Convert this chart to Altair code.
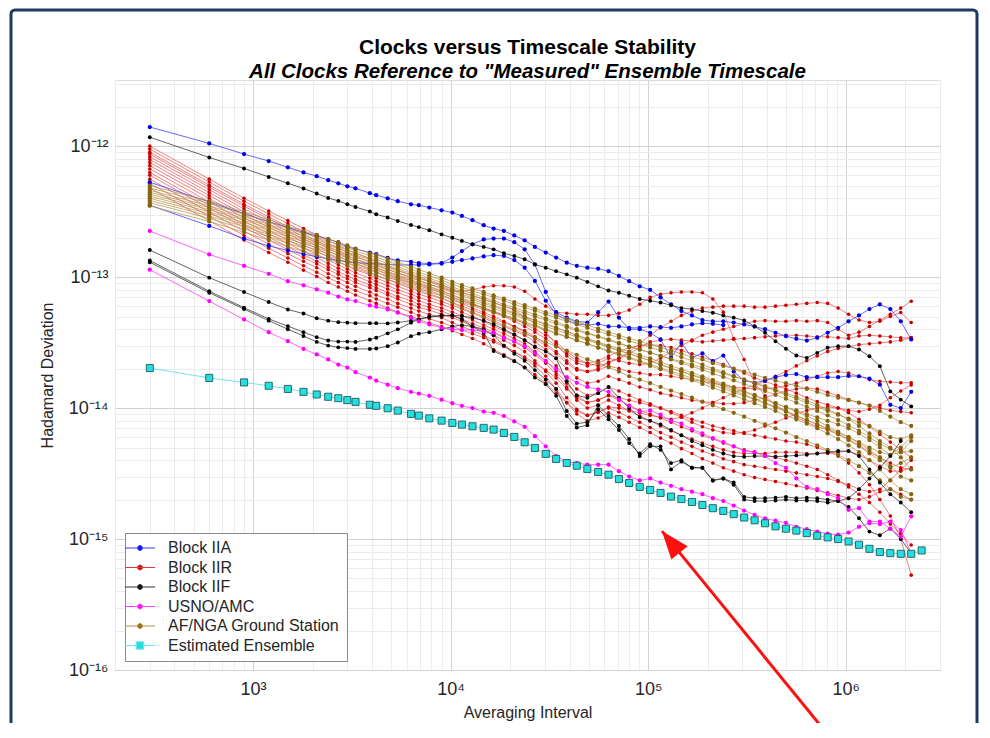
import altair as alt
import pandas as pd

# ---------------- sampling grid: tau = TAU0 * m ----------------
TAU0 = 300
M = [1, 2, 3, 4, 5, 6, 7, 8, 9, 10,
     11, 13, 14, 16, 18, 21, 23, 26, 30, 34,
     38, 43, 49, 55, 62, 70, 79, 89, 101, 114,
     129, 145, 164, 186, 210, 237, 267, 302, 341, 385,
     435, 491, 555, 627, 708, 800, 903, 1020, 1152, 1301,
     1470, 1660, 1874, 2117, 2391, 2700, 3050, 3445, 3890, 4394,
     4962, 5605, 6330, 7149]
M_ENSEMBLE = M + [8074]
UNIT = 1e-15  # all deviation values below are in units of 1e-15

# ---------------- Block IIA ----------------
IIA = {
    "IIA-1": [1400, 1050, 870, 770, 690, 630, 590, 550, 520, 494, 477, 437, 422, 400, 380, 360, 354, 340, 324, 311,
              293, 272, 249, 235, 225, 208, 191, 170, 154, 141, 129, 122, 118, 116, 111, 102, 93, 85, 80, 70,
              62, 55, 51, 47, 46, 46, 45, 43.5, 42, 40, 37.6, 35.4, 33.8, 32.8, 34.4, 37.6, 41, 46, 51, 57,
              62, 57, 46, 33.4],
    "IIA-2": [530, 375, 305, 265, 240, 220, 206, 195, 184, 170, 164, 154, 150, 140, 134, 131, 128, 127, 128, 141,
              158, 178, 194, 197, 197, 185, 163, 125, 77, 54, 49, 46, 45, 54, 65, 49, 40, 40, 37.6, 33.4,
              24.3, 31.5, 24.3, 26.2, 22.8, 25.2, 19, 16.2, 15.6, 16.2, 17.2, 17.9, 18.2, 17.2, 17.2, 17.2, 17.2, 17.6, 17.5, 16.8,
              15.1, 10.6, 10, 13.3],
    "IIA-3": [354, 246, 197, 173, 160, 150, 143, 138, 134, 131, 129, 127, 126, 125, 124, 124, 124, 125, 127, 131,
              135, 139, 144, 147, 145, 135, 118, 93.5, 66, 52, 47, 44, 43, 44, 42, 42, 41, 41, 42, 41.5,
              41, 42, 43.5, 44.5, 44, 43],
}

# ---------------- Block IIR ----------------
IIR = {
    "IIR-1": [950, 532, 380, 304, 256, 223, 200, 180, 166, 154, 144, 131, 124, 115, 107, 99, 94, 88, 83, 78,
              78, 80, 84, 86, 86, 84, 78, 68, 60, 54, 53, 52, 52, 51, 51, 53, 56, 62, 70, 74,
              76, 77, 77, 76, 68, 54, 34, 23.5, 15.6, 12.4, 10.5, 9.5, 8.5, 7.8, 7.2, 6.8, 6.3, 5.8, 5.2, 4.6,
              4.2, 3.8, 3.5, 3.4],
    "IIR-2": [1000, 560, 400, 320, 270, 235, 210, 190, 175, 162, 152, 138, 131, 121, 113, 104, 99, 93, 87, 81,
              76, 72, 68, 64, 60, 56, 50, 44, 38, 31, 25, 22, 21, 22, 24, 23, 22, 21.5, 22, 24,
              27, 30, 33, 36, 38, 40, 42, 44, 46, 46.5, 46, 46, 46.5, 46, 46.5, 45, 40, 36, 38, 42,
              47, 52, 58, 65.5],
    "IIR-3": [870, 487, 348, 278, 235, 204, 183, 165, 152, 141, 132, 120, 114, 105, 98, 90, 86, 81, 76, 70,
              66, 62, 58, 55, 51, 48, 44, 40, 36, 32, 27, 24, 22, 21, 22, 24, 27, 31, 36, 41,
              46, 51, 55, 58, 59, 60, 60, 60, 59, 59, 60, 61, 62, 63, 64, 63, 58, 52, 47, 45,
              46, 50, 53.7, 45],
    "IIR-4": [830, 465, 332, 266, 224, 195, 174, 158, 145, 134, 126, 115, 109, 100, 94, 86, 82, 77, 72, 67,
              63, 58, 54, 50, 46, 42, 38, 34, 30, 26, 22, 19.5, 19, 20, 22.5, 24, 26, 29, 32, 33,
              33.5, 33, 32.5, 32, 32.5, 33, 33.5, 34, 34.5, 35, 35.5, 36, 36, 35.5, 35, 35, 34.5, 34, 35.5, 36,
              35.5, 35, 34.4, 34.4],
    "IIR-5": [790, 442, 316, 253, 213, 186, 166, 150, 138, 128, 120, 109, 103, 96, 89, 82, 78, 73, 69, 64,
              60, 56, 52, 48, 45, 42, 39, 35, 31, 27, 23, 20, 19, 19.5, 21, 20, 19, 18.5, 18, 18,
              17.5, 17, 16.5, 16, 15.5, 15, 14.5, 14.2, 14, 14, 14.3, 14.8, 15.5, 16.5, 17.5, 18.5, 19, 18.5, 17.5, 16.5,
              16, 15.8, 15.6, 15.6],
    "IIR-6": [750, 420, 300, 240, 203, 176, 158, 143, 131, 122, 114, 104, 98, 91, 85, 78, 74, 70, 65, 61,
              57, 53, 49, 45, 42, 39, 36, 32, 28, 24, 20, 17, 15.5, 16, 17.5, 16.5, 15.5, 14.5, 13.8, 13,
              12.5, 12, 11.5, 11.2, 11, 10.8, 10.8, 11, 11.5, 12, 12.8, 13.5, 14, 14.2, 14, 13.2, 12.4, 11.6, 11, 10.5,
              10, 9.6, 9.4, 9.2],
    "IIR-7": [710, 398, 284, 227, 192, 167, 149, 135, 124, 115, 108, 98, 93, 86, 80, 74, 70, 66, 62, 58,
              54, 50, 46, 42, 39, 36, 33, 29, 25, 21, 17, 14, 12.5, 13, 14.5, 13.5, 12.5, 11.5, 10.8, 10,
              9.4, 8.8, 8.2, 7.8, 7.3, 7, 6.7, 6.4, 6.2, 6, 5.8, 5.6, 5.5, 5.3, 5, 4.7, 4.3, 3.8, 3.2, 2.6,
              2, 1.5, 1.0, 0.53],
    "IIR-8": [670, 375, 268, 214, 181, 157, 141, 127, 117, 109, 102, 92, 88, 81, 76, 70, 66, 62, 58, 54,
              51, 47, 43, 40, 37, 34, 31, 27, 23, 19, 15.5, 12.5, 11, 11.5, 12.5, 11.5, 10.5, 9.6, 9, 8.4,
              7.8, 7.2, 6.7, 6.2, 5.8, 5.4, 5.1, 4.8, 4.6, 4.4, 4.2, 4.0, 3.8, 3.6, 3.4, 3.1, 2.8, 2.5, 2.2, 1.9,
              1.6, 1.3, 1.1, 0.9],
    "IIR-9": [630, 353, 252, 202, 170, 148, 132, 120, 110, 102, 96, 87, 83, 76, 71, 66, 62, 59, 55, 51,
              48, 44, 41, 38, 35, 32, 29, 25.5, 22, 18, 14.5, 11.5, 10, 10.5, 11.5, 10.5, 9.5, 8.7, 8, 7.3,
              6.7, 6.2, 5.8, 5.4, 5.1, 4.8, 4.6, 4.5, 4.5, 4.5, 4.6, 4.6, 4.6, 4.5, 4.5, 4.5, 4.6, 4.7, 4.4, 4,
              3.6, 3.3, 3.3, 3.5],
    "IIR-10": [600, 336, 240, 192, 162, 141, 126, 114, 105, 97, 91, 83, 79, 73, 68, 62, 59, 56, 52, 49,
               46, 42, 39, 36, 33, 30, 27, 23, 19, 15.5, 12, 9.8, 8.8, 9.3, 10, 9.3, 8.5, 7.8, 7.1, 6.5,
               6, 5.5, 5.1, 4.7, 4.4, 4.1, 3.9, 3.7, 3.6, 3.5, 3.4, 3.3, 3.2, 3.1, 3.0, 2.9, 2.75, 2.6, 2.4, 2.3,
               2.4, 2.8, 3.4, 4.0],
    "IIR-11": [560, 314, 224, 179, 151, 132, 118, 106, 98, 91, 85, 77, 73, 68, 63, 58, 55, 52, 49, 45,
               42, 39, 36, 33, 30, 27, 24, 21, 17.5, 14, 11, 9, 8, 8.4, 9.2, 8.5, 7.8, 7.1, 6.5, 5.9,
               5.4, 4.9, 4.5, 4.1, 3.8, 3.5, 3.3, 3.1, 2.95, 2.85, 2.75, 2.65, 2.55, 2.45, 2.35, 2.25, 2.15, 2.05, 2.0, 2.1,
               2.3, 2.4, 2.2, 2.0],
    "IIR-12": [520, 291, 208, 166, 140, 122, 109, 99, 91, 84, 79, 72, 68, 63, 59, 54, 51, 48, 45, 42,
               39.5, 37, 34.5, 32, 29.5, 27, 24.5, 22, 19.5, 17, 14, 12, 11, 11.5, 12.5, 12, 11.5, 11, 10.5, 10,
               9.2, 8.5, 7.8, 7.2, 6.8, 6.5, 6.4, 6.5, 6.8, 7.3, 7.8, 8.4, 9.0, 9.6, 10, 10.2, 10, 9.2, 8.2, 7.2,
               6.3, 5.5, 4.8, 4.2],
    "IIR-13": [480, 269, 192, 154, 130, 113, 101, 91, 84, 78, 73, 66, 63, 58, 54, 50, 47.5, 44.5, 42, 39,
               36.5, 34, 31, 28, 25.5, 23, 20.5, 18, 15.5, 13, 11, 9.5, 8.8, 9.3, 10.2, 10, 9.6, 9.2, 8.8, 8.5,
               8.2, 8.5, 9.2, 10, 11, 12, 13, 14, 15, 16, 17.5, 19, 21, 23, 25, 27, 28.5, 29.5, 30.5, 31,
               31.5, 32, 33, 34.5],
    "IIR-14": [900, 504, 360, 288, 243, 212, 189, 171, 158, 146, 137, 124, 118, 109, 102, 94, 89, 84, 78, 73,
               68, 63, 58, 54, 50, 46, 42, 38, 34, 30, 26, 23, 22, 23, 25, 27, 29, 30, 30.5, 30,
               29, 27.5, 26, 24.5, 23, 21.5, 20, 18.5, 17, 16, 15, 14, 13, 12, 11.2, 10.6, 10, 9.6, 9.4, 9.8,
               10.5, 12, 13.5, 15],
}

# ---------------- Block IIF ----------------
IIF = {
    "IIF-1": [1170, 820, 675, 582, 521, 475, 435, 402, 382, 360, 343, 317, 302, 285, 268, 250, 241, 228, 212, 200,
              189, 178, 170, 163, 152, 145, 137, 125, 118, 111, 105, 99, 92, 85, 79, 76, 72, 68, 66, 64,
              61, 58, 57, 55, 53.5, 51, 49, 46.7, 42, 37.6, 32.4, 28.4, 25.2, 24.2, 26.4, 28.9, 29.7, 29.7, 28, 24.9,
              20.9, 13.4, 11.6, 10.3],
    "IIF-2": [161, 99, 77, 64.5, 56.6, 52.7, 48.5, 46.5, 45.3, 44.9, 44.5, 44.5, 44.5, 44.3, 45, 46.5, 47.5, 49.5, 50.5, 51,
              50.5, 49, 46.5, 43.5, 40, 36.5, 33, 29.5, 27, 24, 16, 12.5, 12, 13, 14.5, 12, 10, 8.5, 8, 7.5,
              6.8, 6.2, 5.6, 5.2, 4.8, 4.5, 4.3, 4.25, 4.3, 4.3, 4.25, 4.3, 4.35, 4.4, 4.5, 4.6, 4.7, 4.7, 4.3, 3.4,
              2.7, 2.2, 1.9, 1.6],
    "IIF-3": [134, 78, 58.4, 48, 42.2, 38, 34.8, 32.8, 32.2, 32.2, 32, 33.4, 34.4, 37.2, 39.9, 44.9, 47.5, 50, 51, 51,
              47.5, 42, 37.6, 27.3, 25, 22.8, 20.4, 17.1, 15.2, 12.4, 8.7, 7.1, 7.4, 10.5, 8.7, 7.3, 5.8, 4.3, 5.1, 5.1,
              3.4, 3.9, 3.5, 3.5, 2.8, 2.9, 2.7, 2.1, 2.05, 2.05, 2.07, 2.1, 2.05, 2.07, 2.05, 2.0, 1.95, 1.76, 1.44, 1.14,
              1.07, 1.2, 1.0, 0.78],
    "IIF-4": [130, 76, 57, 46.5, 40, 35.5, 32, 30, 29.1, 28.7, 28.3, 28.3, 28.5, 29.7, 31.7, 35.4, 37, 38, 39.9, 42,
              43, 42, 40, 36, 30, 26, 23, 19.5, 16.5, 14, 9.5, 7.6, 7.8, 9.8, 8.2, 6.8, 5.4, 4.5, 5.3, 4.8,
              3.8, 4.0, 3.5, 3.5, 2.8, 2.9, 2.6, 2.0, 1.95, 1.95, 1.97, 2.0, 1.97, 1.97, 1.95, 1.9, 1.95, 2.05, 2.4, 2.9,
              3.5, 4.3, 5.6],
}

# ---------------- USNO / AMC ----------------
USNO = {
    "USNO-1": [225, 149, 122, 106, 93, 86.6, 80.6, 76, 71, 67.5, 65.6, 60.8, 59.5, 56.6, 53.5, 49, 46, 43.5, 41, 40,
               39.5, 39.5, 38.5, 37.6, 34.4, 32.4, 29.7, 26.3, 22.8, 19.9, 17.2, 15.6, 14.5, 13.9, 13.3, 11.6, 10.4, 9.4, 9.6, 8.9,
               8.0, 7.6, 6.9, 6.4, 5.9, 5.5, 5.1, 4.7, 4.6, 4.3, 3.8, 3.5, 2.9, 2.5, 2.4, 2.2, 2.05, 1.67, 1.72, 1.36,
               1.36, 1.2, 1.04, 1.49],
    "USNO-2": [114, 65.6, 47.5, 38, 32.4, 28.3, 25.7, 23.5, 21.5, 20.4, 18.8, 17.1, 16.2, 15.1, 14.2, 13.3, 12.9, 12.4, 11.6, 10.9,
               10.4, 10, 9.4, 9.2, 8.7, 7.9, 7.2, 6.1, 5.1, 4.3, 3.9, 3.8, 3.7, 3.7, 3.7, 3.3, 3.0, 2.8, 2.9, 2.7,
               2.55, 2.4, 2.3, 2.2, 2.05, 1.95, 1.8, 1.65, 1.53, 1.44, 1.38, 1.33, 1.24, 1.19, 1.14, 1.1, 1.08, 1.12, 1.24, 1.32,
               1.3, 1.36, 1.17, 0.78],
}

# ---------------- AF/NGA ground stations ----------------
AFNGA = {
    "AF-1": [500, 380, 315, 275, 245, 225, 210, 195, 185, 175, 165, 152, 148, 138, 130, 120, 114, 107, 99, 92,
             87, 82, 77, 72.5, 68.5, 64.5, 61, 57.5, 54, 51, 48, 45.5, 43, 40.5, 38, 36, 34, 32.5, 30.5, 29,
             27.5, 26, 24.5, 23.5, 22, 21, 20, 19, 18, 17, 16.2, 15.5, 14.8, 14, 13.3, 12.6, 12, 11.5, 11, 10.4,
             9.5, 8.6, 7.8, 7.3],
    "AF-2": [480, 365, 302, 264, 235, 216, 202, 187, 178, 168, 158, 146, 142, 132, 125, 115, 109, 102, 95, 88,
             83.5, 78.5, 74, 70, 66, 62, 58.5, 55.5, 52, 49, 46, 43.5, 41, 38.5, 36.5, 34.5, 32.5, 31, 29, 27.5,
             26, 24.5, 23, 21.5, 20, 18.8, 17.6, 16.5, 15.5, 14.5, 13.6, 12.6, 11.8, 11, 10.2, 9.5, 8.9, 8.3, 7.8, 7.3,
             6.6, 6.0, 5.8, 6.2],
    "AF-3": [460, 350, 290, 253, 225, 207, 193, 179, 170, 161, 152, 140, 136, 127, 120, 110, 105, 98, 91, 84,
             79.5, 75, 70, 66, 62, 58.5, 55, 52, 48.5, 45.5, 42.5, 40, 37.5, 35.5, 33.5, 31.5, 29.5, 28, 26.5, 25,
             23.5, 22, 20.8, 19.6, 18.4, 17.3, 16.3, 15.3, 14.4, 13.5, 12.6, 11.8, 11, 10.2, 9.5, 8.8, 8.1, 7.4, 6.7, 6.0,
             5.3, 4.9, 4.6, 4.7],
    "AF-4": [445, 338, 280, 245, 218, 200, 187, 174, 165, 156, 147, 136, 131, 122, 116, 107, 101, 95, 88, 81,
             77, 72, 67.5, 63.5, 60, 56.5, 53, 50, 47, 44, 41.5, 39, 37, 35, 33, 31, 29.5, 28, 26.5, 25,
             23.8, 22.6, 21.5, 20.4, 19.4, 18.4, 17.4, 16.5, 15.6, 14.7, 13.8, 13, 12.2, 11.4, 10.6, 9.8, 9, 8.2, 7.3, 6.4,
             5.6, 5, 4.2, 3.4],
    "AF-5": [430, 327, 271, 237, 211, 194, 181, 168, 159, 150, 142, 131, 127, 118, 112, 103, 98, 92, 85, 79,
             74, 69.5, 65, 61, 57, 53.5, 50, 47, 44, 41, 38.5, 36, 33.5, 31.5, 29.5, 27.5, 26, 24.5, 23, 21.5,
             20, 19, 18, 17, 16, 15, 14, 13.2, 12.4, 11.6, 10.9, 10.2, 9.6, 9, 8.5, 8, 7.5, 7, 6.4, 5.7,
             5, 4.4, 4.6, 5.6],
    "AF-6": [415, 315, 261, 228, 203, 187, 174, 162, 154, 145, 137, 127, 122, 114, 108, 100, 95, 88, 82, 76,
             72, 67.5, 63, 59.5, 56, 52.5, 49.5, 46.5, 43.5, 41, 38.5, 36, 34, 32, 30, 28.5, 27, 25.5, 24, 22.5,
             21, 19.8, 18.6, 17.5, 16.4, 15.4, 14.4, 13.5, 12.6, 11.7, 10.9, 10.1, 9.4, 8.7, 8, 7.3, 6.6, 6, 5.4, 4.8,
             4.2, 3.6, 3.0, 2.8],
    "AF-7": [400, 304, 252, 220, 196, 180, 168, 156, 148, 140, 132, 122, 118, 110, 104, 96, 91, 85, 79, 73,
             69, 65, 61, 57.5, 54, 51, 48, 45, 42, 39.5, 37, 35, 33, 31, 29, 27.5, 26, 24.5, 23, 21.5,
             20.2, 19, 17.8, 16.7, 15.6, 14.6, 13.6, 12.7, 11.8, 11, 10.2, 9.5, 8.8, 8.1, 7.5, 6.9, 6.3, 5.7, 5.1, 4.5,
             4.0, 3.5, 3.8, 4.2],
    "AF-8": [385, 293, 243, 212, 189, 173, 162, 150, 142, 135, 127, 117, 114, 106, 100, 92, 88, 82, 76, 70,
             66, 62, 58, 55, 51.5, 48.5, 45.5, 43, 40, 37.5, 35, 33, 31, 29, 27, 25.5, 24, 22.5, 21, 19.8,
             18.6, 17.4, 16.3, 15.3, 14.3, 13.4, 12.5, 11.7, 10.9, 10.2, 9.5, 8.8, 8.2, 7.6, 7.0, 6.4, 5.8, 5.2, 4.6, 4.0,
             3.4, 2.8, 2.4, 2.2],
    "AF-9": [370, 281, 233, 204, 181, 167, 155, 144, 137, 130, 122, 113, 109, 102, 96, 89, 84, 79, 73, 68,
             64, 60.5, 56.5, 53.5, 50.5, 47.5, 44.5, 42, 39.5, 37, 35, 33, 31, 29, 27.5, 26, 24.5, 23, 21.5, 20.3,
             19.2, 18, 17, 16, 15, 14.1, 13.2, 12.4, 11.6, 10.8, 10.1, 9.4, 8.7, 8.1, 7.5, 7, 6.5, 6, 5.5, 5,
             4.6, 4.4, 5.0, 6.0],
    "AF-10": [350, 266, 220, 192, 171, 157, 147, 136, 130, 122, 116, 107, 103, 96, 91, 84, 80, 75, 69, 64,
              58, 54, 50, 46.5, 43, 40, 37, 34.5, 32, 29.5, 27.5, 25.5, 23.5, 22, 20.5, 19, 17.5, 16.5, 15.5, 14.5,
              13.6, 12.8, 12, 11.2, 10.5, 9.8, 9.2, 8.6, 8, 7.5, 7, 6.5, 6, 5.6, 5.2, 4.8, 4.4, 4, 3.6, 3.2,
              2.8, 2.4, 2.1, 2.0],
}

# ---------------- Estimated ensemble ----------------
ENSEMBLE = [20.2, 17.0, 15.7, 14.8, 14.0, 13.3, 12.7, 12.2, 11.9, 11.5, 11.15, 10.6, 10.4, 9.97, 9.57, 9.03, 8.76, 8.35, 8.02, 7.70,
            7.48, 7.26, 7.06, 6.85, 6.46, 6.02, 5.48, 4.96, 4.47, 4.09, 3.81, 3.63, 3.43, 3.25, 3.10, 2.87, 2.68, 2.50, 2.37, 2.25,
            2.11, 2.02, 1.92, 1.82, 1.72, 1.64, 1.55, 1.46, 1.39, 1.32, 1.25, 1.20, 1.16, 1.11, 1.06, 1.03, 1.00, 0.958, 0.904, 0.842,
            0.795, 0.78, 0.771, 0.771, 0.818]

LABELS = ["Block IIA", "Block IIR", "Block IIF", "USNO/AMC", "AF/NGA Ground Station", "Estimated Ensemble"]

# arrow annotation (tail, tip) in data coordinates
ARROW_TAU = [8.83e5, 1.175e5]
ARROW_HDEV = [2.75e-17, 1.15e-15]
ARROW_HEAD = (1.30e5, 9.5e-16)


def frame_of(series_dict, grid):
    rows = []
    for name, vals in series_dict.items():
        for m, v in zip(grid, vals):
            rows.append({"tau": TAU0 * m, "hdev": v * UNIT, "series": name})
    return pd.DataFrame(rows)


FONT = "Liberation Sans"

x_major = [1000, 10000, 100000, 1000000]
x_minor = [k * 10 ** e for e in range(2, 7) for k in range(2, 10) if 200 <= k * 10 ** e <= 3000000]
y_major = [1e-16, 1e-15, 1e-14, 1e-13, 1e-12]
y_minor = [k * 10.0 ** e for e in range(-16, -12) for k in range(2, 10)] + [2e-12, 3e-12]

x_label_expr = ("datum.value == 1000 ? '10³' : datum.value == 10000 ? '10⁴' : "
                "datum.value == 100000 ? '10⁵' : datum.value == 1000000 ? '10⁶' : ''")
y_label_expr = ("datum.value == 1e-12 ? '10⁻¹²' : datum.value == 1e-13 ? '10⁻¹³' : "
                "datum.value == 1e-14 ? '10⁻¹⁴' : datum.value == 1e-15 ? '10⁻¹⁵' : "
                "datum.value == 1e-16 ? '10⁻¹⁶' : ''")

x_axis = alt.Axis(values=sorted(x_major + x_minor), labelExpr=x_label_expr, title="Averaging Interval",
                  grid=True, ticks=False, domain=False, labelFlush=False, labelOverlap=False,
                  gridColor={"condition": {"test": "indexof([1000,10000,100000,1000000], datum.value) >= 0",
                                           "value": "#d2d2d2"}, "value": "#ebebeb"},
                  labelFont=FONT, labelFontSize=18, labelColor="#262626", labelPadding=10,
                  titleFont=FONT, titleFontSize=16, titleFontWeight="normal", titleColor="#262626",
                  titlePadding=6)
y_axis = alt.Axis(values=sorted(y_major + y_minor), labelExpr=y_label_expr, title="Hadamard Deviation",
                  grid=True, ticks=False, domain=False, labelFlush=False, labelOverlap=False,
                  gridColor={"condition": {"test": "indexof([1e-16,1e-15,1e-14,1e-13,1e-12], datum.value) >= 0",
                                           "value": "#d2d2d2"}, "value": "#ebebeb"},
                  labelFont=FONT, labelFontSize=18, labelColor="#262626", labelPadding=7,
                  titleFont=FONT, titleFontSize=16, titleFontWeight="normal", titleColor="#262626",
                  titlePadding=13)

xs = alt.Scale(type="log", domain=[200, 3000000], nice=False)
ys = alt.Scale(type="log", domain=[1e-16, 3.2e-12], nice=False)
X = alt.X("tau:Q", scale=xs, axis=x_axis)
Y = alt.Y("hdev:Q", scale=ys, axis=y_axis)

# group styling: (data, line colour, line opacity, marker colour, marker size)
STYLE = [
    (IIR, "#e23a3a", 0.7, "#c80000", 13),
    (IIA, "#3a3aff", 0.85, "#0000e6", 18),
    (AFNGA, "#b39042", 0.8, "#86650f", 18),
    (IIF, "#333333", 0.85, "#000000", 15),
    (USNO, "#ff40ff", 0.9, "#ff00ff", 18),
]

layers = []

frame = alt.Chart(pd.DataFrame({"k": [0]})).mark_rect(
    fillOpacity=0, stroke="#1d3a63", strokeWidth=3, cornerRadius=4, clip=False
).encode(x=alt.value(-104), x2=alt.value(862), y=alt.value(-70), y2=alt.value(720))
layers.append(frame)

for data, lc, lop, mc, ms in STYLE:
    df = frame_of(data, M)
    base = alt.Chart(df).encode(x=X, y=Y)
    layers.append(base.mark_line(color=lc, strokeWidth=0.9, opacity=lop, clip=True).encode(detail="series:N"))
    layers.append(base.mark_circle(color=mc, size=ms, opacity=1, clip=True))

ens_df = frame_of({"Ensemble": ENSEMBLE}, M_ENSEMBLE)
ens_base = alt.Chart(ens_df).encode(x=X, y=Y)
layers.append(ens_base.mark_line(color="#6fe6ef", strokeWidth=1, clip=True))
layers.append(ens_base.mark_square(size=50, filled=True, color="#27dede", stroke="#1e5a60",
                                   strokeWidth=0.9, opacity=1, clip=True))

# legend-only layer (points sit outside the plotted range and are clipped away)
LINE_DOT = "M-2,0L2,0M0.33,0A0.33,0.33,0,1,1,-0.33,0A0.33,0.33,0,1,1,0.33,0Z"
LINE_SQ = "M-2,0L-0.5,0M0.5,0L2,0M-0.5,-0.5L0.5,-0.5L0.5,0.5L-0.5,0.5Z"
leg_df = pd.DataFrame({"label": LABELS, "tau": [1e8] * 6, "hdev": [1e-14] * 6})
LEG = alt.Legend(title=None, orient="none", legendX=10, legendY=453, fillColor="white",
                 strokeColor="#8a8a8a", padding=7, labelFont=FONT, labelFontSize=16,
                 labelColor="#262626", symbolSize=225, labelOffset=20, rowPadding=3.5,
                 labelLimit=400, symbolStrokeWidth=1, symbolOpacity=1)
legend_layer = alt.Chart(leg_df).mark_point(filled=True, size=225, opacity=1, strokeWidth=1, clip=True).encode(
    x=X, y=Y,
    color=alt.Color("label:N", scale=alt.Scale(domain=LABELS, range=["#0000e6", "#c80000", "#000000", "#ff00ff", "#86650f", "#27dede"]), legend=LEG),
    stroke=alt.Stroke("label:N", scale=alt.Scale(domain=LABELS, range=["#3a3aff", "#e23a3a", "#333333", "#ff40ff", "#b39042", "#6fe6ef"]), legend=LEG),
    shape=alt.Shape("label:N", scale=alt.Scale(domain=LABELS, range=[LINE_DOT] * 5 + [LINE_SQ]), legend=LEG),
)
layers.append(legend_layer)

arrow_df = pd.DataFrame({"tau": [ARROW_TAU[0]], "hdev": [ARROW_HDEV[0]],
                         "tau2": [ARROW_TAU[1]], "hdev2": [ARROW_HDEV[1]]})
arrow = alt.Chart(arrow_df).mark_rule(color="#ff1010", strokeWidth=3, clip=False).encode(
    x=X, y=Y, x2="tau2:Q", y2="hdev2:Q")
head_df = pd.DataFrame({"tau": [ARROW_HEAD[0]], "hdev": [ARROW_HEAD[1]]})
head = alt.Chart(head_df).mark_point(shape="M0,-1L0.75,1L-0.75,1Z", filled=True, color="#ff1010",
                                     size=784, angle=321, opacity=1, clip=False).encode(x=X, y=Y)
layers += [arrow, head]

chart = alt.layer(*layers).properties(
    width=825, height=590,
    title=alt.TitleParams(
        text="Clocks versus Timescale Stability",
        subtitle='All Clocks Reference to "Measured" Ensemble Timescale',
        font=FONT, fontSize=21, fontWeight="bold", color="#000000",
        subtitleFont=FONT, subtitleFontSize=20.5, subtitleFontWeight="bold", subtitleFontStyle="italic",
        subtitleColor="#000000", anchor="middle", frame="group", offset=-73.5, subtitlePadding=3.5),
    autosize=alt.AutoSizeParams(type="none"),
    padding={"left": 107, "top": 72, "right": 40, "bottom": 53},
).configure_view(stroke="#8c8c8c", strokeWidth=1).configure(font=FONT)

chart.save("out.html", embed_options={"renderer": "svg", "actions": False})
